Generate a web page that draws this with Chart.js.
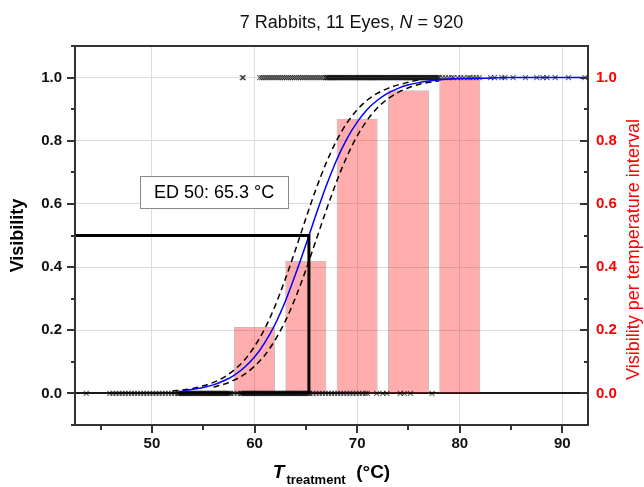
<!DOCTYPE html>
<html>
<head>
<meta charset="utf-8">
<script src="https://cdn.jsdelivr.net/npm/chart.js@4.4.1/dist/chart.umd.min.js"></script>
<style>
  html, body { margin: 0; padding: 0; background: #fff; }
  canvas { display: block; }
</style>
</head>
<body>
<canvas id="chart" width="644" height="487"></canvas>
<script>
// Values (temperature in °C, visibility 0..1)
const xTicks = [45, 50, 55, 60, 65, 70, 75, 80, 85, 90];
const yTicks = [-0.1, 0, 0.1, 0.2, 0.3, 0.4, 0.5, 0.6, 0.7, 0.8, 0.9, 1.0, 1.1];

// fraction visible per 5 °C interval
const binCenters = [60, 65, 70, 75, 80];
const binVisibility = [0.21, 0.42, 0.87, 0.96, 1.0];

// single observations: visible (1) and not visible (0)
const visibleT = [
  58.8, 58.9,
  60.5, 60.7, 60.9, 61.1, 61.3, 61.5, 61.7, 61.9, 62.1, 62.3, 62.5, 62.7, 62.9, 63.1,
  63.3, 63.5, 63.7, 63.9, 64.1, 64.3, 64.5, 64.7, 64.9, 65.1, 65.3, 65.5, 65.7, 65.9,
  66.1, 66.3, 66.5, 66.7, 66.9,
  67.0, 67.1, 67.2, 67.3, 67.4, 67.5, 67.6, 67.7, 67.8, 67.9, 68.0, 68.1, 68.2, 68.3, 68.4,
  68.5, 68.6, 68.7, 68.8, 68.9, 69.0, 69.1, 69.2, 69.3, 69.4, 69.5, 69.6, 69.7, 69.8, 69.9,
  70.0, 70.1, 70.2, 70.3, 70.4, 70.5, 70.6, 70.7, 70.8, 70.9, 71.0, 71.1, 71.2, 71.3, 71.4,
  71.5, 71.6, 71.7, 71.8, 71.9, 72.0, 72.1, 72.2, 72.3, 72.4, 72.5, 72.6, 72.7, 72.8, 72.9,
  73.0, 73.1, 73.2, 73.3, 73.4, 73.5, 73.6, 73.7, 73.8, 73.9, 74.0, 74.1, 74.2, 74.3, 74.4,
  74.5, 74.6, 74.7, 74.8, 74.9, 75.0, 75.1, 75.2, 75.3, 75.4, 75.5, 75.6, 75.7, 75.8, 75.9,
  76.0, 76.1, 76.2, 76.3, 76.4, 76.5, 76.6, 76.7, 76.8, 76.9, 77.0, 77.1, 77.2, 77.3, 77.4,
  77.5, 77.6, 77.7, 77.8, 77.9, 78.0,
  78.3, 78.6, 78.9, 79.2, 79.4, 79.8, 80.1, 80.4, 80.8, 81.0, 81.3, 81.6, 81.9,
  83.0, 83.4, 84.1, 84.4, 85.2, 86.4, 87.5, 88.1, 88.5, 89.3, 90.6, 92.2
];
const hiddenT = [
  43.6,
  45.9, 46.2, 46.5, 46.8, 47.1, 47.4, 47.7, 48.0, 48.3, 48.6, 48.9, 49.2, 49.5, 49.8,
  50.1, 50.4, 50.7, 51.0, 51.3, 51.6, 51.9, 52.2, 52.5,
  52.6, 52.7, 52.8, 52.9, 53.0, 53.1, 53.2, 53.3, 53.4, 53.5, 53.6, 53.7, 53.8, 53.9,
  54.0, 54.1, 54.2, 54.3, 54.4, 54.5, 54.6, 54.7, 54.8, 54.9, 55.0, 55.1, 55.2, 55.3,
  55.4, 55.5, 55.6, 55.7, 55.8, 55.9, 56.0, 56.1, 56.2, 56.3, 56.4, 56.5, 56.6, 56.7,
  56.8, 56.9, 57.0, 57.1, 57.2, 57.3, 57.4, 57.5, 57.6, 57.7, 58.0, 58.3,
  58.6, 58.7, 58.8, 58.9, 59.0, 59.1, 59.2, 59.3, 59.4, 59.5, 59.6, 59.7, 59.8, 59.9,
  60.0, 60.1, 60.2, 60.3, 60.4, 60.5, 60.6, 60.7, 60.8, 60.9, 61.0, 61.1, 61.2, 61.3,
  61.4, 61.5, 61.6, 61.7, 61.8, 61.9, 62.0, 62.1, 62.2, 62.3, 62.4, 62.5, 62.6, 62.7,
  62.8, 62.9, 63.0, 63.1, 63.2, 63.3, 63.4, 63.5, 63.6, 63.7, 63.8, 63.9, 64.0, 64.1,
  64.2, 64.3, 64.4, 64.5, 64.6, 64.7, 64.8, 64.9, 65.0, 65.1, 65.2, 65.3, 65.4,
  65.7, 66.0, 66.3, 66.6, 66.9, 67.2, 67.5, 67.8, 68.1, 68.4, 68.7, 69.0, 69.3, 69.6,
  69.9, 70.2, 70.5, 70.8, 71.0, 71.9, 72.5, 72.9, 74.2, 74.6, 75.2, 77.3
];

// fitted dose-response curve and its confidence band
const fitT = [53, 54, 55, 56, 57, 58, 59, 60, 61, 62, 63, 64, 65, 66, 67, 68, 69, 70, 71, 72, 73, 74, 75, 76, 77, 78, 80, 82, 85, 92.5];
const fitV = [0.009, 0.013, 0.019, 0.027, 0.040, 0.057, 0.082, 0.115, 0.161, 0.219, 0.292, 0.378, 0.471, 0.567, 0.658, 0.739, 0.806, 0.859, 0.900, 0.929, 0.951, 0.966, 0.977, 0.984, 0.989, 0.993, 0.997, 0.998, 1.0, 1.0];
const upperT = [52, 53, 54, 55, 56, 57, 58, 59, 60, 61, 62, 63, 64, 65, 66, 67, 68, 69, 70, 71, 72, 73, 74, 75, 76];
const upperV = [0.008, 0.011, 0.016, 0.024, 0.035, 0.051, 0.074, 0.105, 0.149, 0.205, 0.277, 0.362, 0.456, 0.554, 0.648, 0.731, 0.801, 0.856, 0.898, 0.929, 0.951, 0.966, 0.977, 0.985, 0.993];
const lowerT = [56, 57, 58, 59, 60, 61, 62, 63, 64, 65, 66, 67, 68, 69, 70, 71, 72, 73, 74, 75, 76, 77, 78];
const lowerV = [0.020, 0.029, 0.042, 0.060, 0.086, 0.121, 0.169, 0.229, 0.304, 0.391, 0.486, 0.581, 0.671, 0.750, 0.815, 0.866, 0.905, 0.933, 0.953, 0.968, 0.978, 0.985, 0.990];

const ed50 = 65.3;
const xMin = 42.5, xMax = 92.5;

const FONT = '"Liberation Sans", Arial, sans-serif';
const pts = (xs, ys) => xs.map((x, i) => ({ x, y: ys[i] }));
const isEvenTenth = (v) => Math.round(v * 10) % 2 === 0;

// frame, tick marks, titles and ED50 label (Origin style)
const decorations = {
  id: 'decorations',
  afterDatasetsDraw(chart) {
    const { ctx, chartArea: a, scales } = chart;
    const sx = scales.x, sy = scales.y, sy2 = scales.y2;
    ctx.save();

    ctx.strokeStyle = '#333';
    ctx.lineWidth = 2;
    ctx.strokeRect(a.left, a.top, a.right - a.left, a.bottom - a.top);

    ctx.beginPath();
    yTicks.forEach((v) => {
      const len = isEvenTenth(v) ? 8 : 4;
      const pl = Math.round(sy.getPixelForValue(v));
      ctx.moveTo(a.left - len, pl); ctx.lineTo(a.left, pl);
      const pr = Math.round(sy2.getPixelForValue(v));
      ctx.moveTo(a.right - len, pr); ctx.lineTo(a.right, pr);
    });
    xTicks.forEach((v) => {
      const len = v % 10 === 0 ? 8 : 5;
      const px = Math.round(sx.getPixelForValue(v));
      ctx.moveTo(px, a.bottom); ctx.lineTo(px, a.bottom + len);
    });
    ctx.stroke();

    // ED50 label
    const label = 'ED 50: ' + ed50 + ' °C';
    ctx.font = '18px ' + FONT;
    const tw = ctx.measureText(label).width;
    const cx = sx.getPixelForValue(56.05), cy = sy.getPixelForValue(0.637);
    const bw = tw + 28, bh = 32;
    ctx.fillStyle = '#fff';
    ctx.fillRect(cx - bw / 2, cy - bh / 2, bw, bh);
    ctx.strokeStyle = '#8a8a8a';
    ctx.lineWidth = 1;
    ctx.strokeRect(Math.round(cx - bw / 2) + 0.5, Math.round(cy - bh / 2) + 0.5, Math.round(bw), bh);
    ctx.fillStyle = '#000';
    ctx.textAlign = 'center';
    ctx.textBaseline = 'middle';
    ctx.fillText(label, cx, cy + 1);

    // chart title with italic N
    ctx.textBaseline = 'alphabetic';
    ctx.textAlign = 'left';
    const p1 = '7 Rabbits, 11 Eyes, ', p2 = 'N', p3 = ' = 920';
    ctx.font = '18px ' + FONT;
    const w1 = ctx.measureText(p1).width, w3 = ctx.measureText(p3).width;
    ctx.font = 'italic 18px ' + FONT;
    const w2 = ctx.measureText(p2).width;
    let tx = (a.left + a.right) / 2 + 20 - (w1 + w2 + w3) / 2;
    ctx.fillStyle = '#111';
    ctx.font = '18px ' + FONT; ctx.fillText(p1, tx, 28); tx += w1;
    ctx.font = 'italic 18px ' + FONT; ctx.fillText(p2, tx, 28); tx += w2;
    ctx.font = '18px ' + FONT; ctx.fillText(p3, tx, 28);

    // x axis title: T_treatment (°C)
    ctx.font = 'bold italic 19px ' + FONT;
    const wT = ctx.measureText('T').width;
    ctx.font = 'bold 13px ' + FONT;
    const wS = ctx.measureText('treatment').width;
    ctx.font = 'bold 19px ' + FONT;
    const wU = ctx.measureText('  (°C)').width;
    let ux = (a.left + a.right) / 2 - (wT + 2 + wS + wU) / 2;
    ctx.fillStyle = '#000';
    ctx.font = 'bold italic 19px ' + FONT; ctx.fillText('T', ux, 478); ux += wT + 2;
    ctx.font = 'bold 13px ' + FONT; ctx.fillText('treatment', ux, 484); ux += wS;
    ctx.font = 'bold 19px ' + FONT; ctx.fillText('  (°C)', ux, 478);

    // y axis titles
    ctx.textAlign = 'center';
    ctx.textBaseline = 'middle';
    ctx.save();
    ctx.translate(18, (a.top + a.bottom) / 2);
    ctx.rotate(-Math.PI / 2);
    ctx.font = 'bold 18px ' + FONT;
    ctx.fillText('Visibility', 0, 0);
    ctx.restore();
    ctx.save();
    ctx.translate(634, (a.top + a.bottom) / 2 + 14);
    ctx.rotate(-Math.PI / 2);
    ctx.font = '18px ' + FONT;
    ctx.fillStyle = '#ff0000';
    ctx.fillText('Visibility per temperature interval', 0, 0);
    ctx.restore();

    ctx.restore();
  }
};

const cross = {
  type: 'line',
  showLine: false,
  pointStyle: 'crossRot',
  pointRadius: 3.5,
  pointBorderWidth: 1.2,
  pointBorderColor: 'rgba(0,0,0,0.6)',
  borderColor: 'rgba(0,0,0,0.6)',
  yAxisID: 'y',
};

new Chart(document.getElementById('chart'), {
  type: 'bar',
  data: {
    datasets: [
      {
        type: 'line',
        data: [{ x: xMin, y: 0.5 }, { x: ed50, y: 0.5 }, { x: ed50, y: 0 }],
        borderColor: '#000',
        borderWidth: 3,
        pointRadius: 0,
        tension: 0,
        yAxisID: 'y',
      },
      {
        type: 'line',
        data: pts(fitT, fitV),
        borderColor: '#0000ff',
        borderWidth: 1.5,
        pointRadius: 0,
        cubicInterpolationMode: 'monotone',
        yAxisID: 'y',
      },
      {
        type: 'line',
        data: pts(upperT, upperV),
        borderColor: '#000',
        borderWidth: 1.5,
        borderDash: [6, 4],
        pointRadius: 0,
        cubicInterpolationMode: 'monotone',
        yAxisID: 'y',
      },
      {
        type: 'line',
        data: pts(lowerT, lowerV),
        borderColor: '#000',
        borderWidth: 1.5,
        borderDash: [6, 4],
        pointRadius: 0,
        cubicInterpolationMode: 'monotone',
        yAxisID: 'y',
      },
      { ...cross, data: visibleT.map((x) => ({ x, y: 1 })) },
      { ...cross, data: hiddenT.map((x) => ({ x, y: 0 })) },
      {
        type: 'bar',
        data: pts(binCenters, binVisibility),
        backgroundColor: 'rgba(255,0,0,0.32)',
        borderColor: 'rgba(110,110,110,0.45)',
        borderWidth: 1,
        barPercentage: 0.8,
        categoryPercentage: 1.0,
        grouped: false,
        yAxisID: 'y2',
      },
    ],
  },
  options: {
    responsive: false,
    animation: false,
    layout: { padding: { top: 46, left: 0, right: 0, bottom: 0 } },
    plugins: { legend: { display: false }, tooltip: { enabled: false } },
    scales: {
      x: {
        type: 'linear',
        min: xMin,
        max: xMax,
        offset: false,
        afterBuildTicks: (s) => { s.ticks = xTicks.map((v) => ({ value: v })); },
        afterFit: (s) => { s.height = 62; },
        border: { display: false },
        grid: {
          offset: false,
          color: (c) => (c.tick && c.tick.value % 10 === 0 ? '#dcdcdc' : 'transparent'),
          tickColor: 'transparent',
          tickLength: 8,
        },
        ticks: {
          autoSkip: false,
          maxRotation: 0,
          padding: 2,
          color: '#111',
          font: { family: FONT, size: 15, weight: 'bold' },
          callback: (v) => (v % 10 === 0 ? String(v) : ''),
        },
      },
      y: {
        type: 'linear',
        position: 'left',
        min: -0.1,
        max: 1.1,
        afterBuildTicks: (s) => { s.ticks = yTicks.map((v) => ({ value: v })); },
        afterFit: (s) => { s.width = 75; },
        border: { display: false },
        grid: {
          color: (c) => {
            if (!c.tick) return 'transparent';
            const v = c.tick.value;
            if (Math.abs(v) < 1e-9) return '#1a1a1a';
            if (v < -0.05 || v > 1.05) return 'transparent';
            return isEvenTenth(v) ? '#dcdcdc' : 'transparent';
          },
          lineWidth: (c) => (c.tick && Math.abs(c.tick.value) < 1e-9 ? 2 : 1),
          tickColor: 'transparent',
          tickLength: 8,
        },
        ticks: {
          padding: 5,
          color: '#111',
          font: { family: FONT, size: 15, weight: 'bold' },
          callback: (v) => (v >= -0.01 && v <= 1.01 && isEvenTenth(v) ? Number(v).toFixed(1) : ''),
        },
      },
      y2: {
        type: 'linear',
        position: 'right',
        min: -0.1,
        max: 1.1,
        afterBuildTicks: (s) => { s.ticks = yTicks.map((v) => ({ value: v })); },
        afterFit: (s) => { s.width = 56; },
        border: { display: false },
        grid: { drawOnChartArea: false, tickColor: 'transparent', tickLength: 8 },
        ticks: {
          padding: 0,
          color: '#ff0000',
          font: { family: FONT, size: 15, weight: 'bold' },
          callback: (v) => (v >= -0.01 && v <= 1.01 && isEvenTenth(v) ? Number(v).toFixed(1) : ''),
        },
      },
    },
  },
  plugins: [decorations],
});
</script>
</body>
</html>
